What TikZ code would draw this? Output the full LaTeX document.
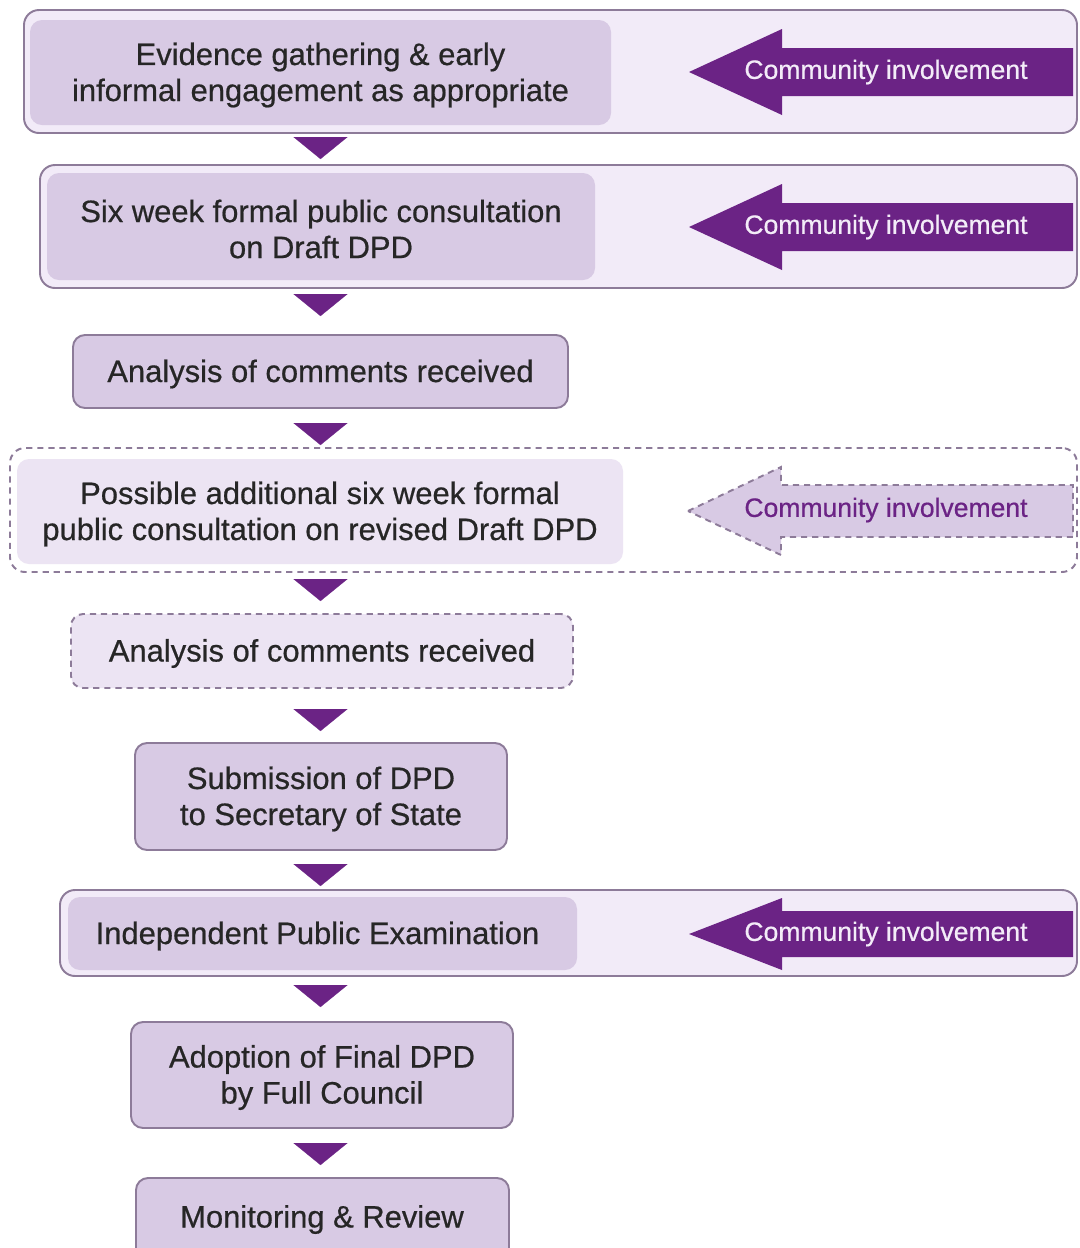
\documentclass[tikz,border=0pt]{standalone}
\usepackage{fontspec}
\setmainfont{Liberation Sans}
\newfontfamily\stepfont{Liberation Sans}[FakeBold=0.6]
\usetikzlibrary{fit,arrows.meta}

\definecolor{pale}{HTML}{F2EBF8}
\definecolor{lilac}{HTML}{D8CAE4}
\definecolor{lilacpale}{HTML}{ECE4F3}
\definecolor{edge}{HTML}{8D7B99}
\definecolor{plum}{HTML}{6B2385}
\definecolor{ink}{HTML}{262626}
\definecolor{snow}{HTML}{F3ECF8}

\begin{document}
\begin{tikzpicture}[x=0.2mm,y=-0.2mm,
    outerbox/.style={draw=edge, line width=1.1pt, fill=pale, rounded corners=3mm, inner sep=0pt},
    maybebox/.style={draw=edge, line width=1.1pt, dash pattern=on 3.5pt off 2.8pt, rounded corners=3mm, inner sep=0pt},
    steptext/.style={inner sep=0pt, align=center, text=ink, yshift=-0.5mm, font=\stepfont\fontsize{17.6}{20.5}\selectfont},
    stepbox/.style={fill=lilac, rounded corners=2.4mm, inner sep=0pt},
    stepline/.style={stepbox, draw=edge, line width=1.1pt},
    stepmaybe/.style={stepbox, fill=lilacpale, draw=edge, line width=1.1pt, dash pattern=on 3.5pt off 2.8pt},
    flowtri/.style={plum, line width=0.1pt, -{Triangle[width=10.8mm, length=4.4mm]}},
    involve/.style={fill=plum},
    involvemaybe/.style={fill=lilac, draw=edge, line width=1.1pt, dash pattern=on 3.5pt off 2.8pt},
    involvetext/.style={inner sep=0pt, text=snow, font=\stepfont\fontsize{15.1}{18}\selectfont},
    involvemaybetext/.style={involvetext, text=plum}]
    \fill [white] (0,0) rectangle (1079,1248);
    \useasboundingbox (0,0) rectangle (1079,1248);

    \node [outerbox, fit={(24,10) (1077,133)}] (o1) {};
    \node [stepbox, fit={(30,20) (611,125)}] (s1) {};
    \node [steptext] (t1) at (s1.center) {Evidence gathering \& early\\informal engagement as appropriate};
    \fill [involve] (689,72) -- ++(93,-43) -- ++(0,19) -- ++(291,0) -- ++(0,48) -- ++(-291,0) -- ++(0,19) -- cycle;
    \node [involvetext] (c1) at (886,72) {Community involvement};

    \node [outerbox, fit={(40,165) (1077,288)}] (o2) {};
    \node [stepbox, fit={(47,173) (595,280)}] (s2) {};
    \node [steptext] (t2) at (s2.center) {Six week formal public consultation\\on Draft DPD};
    \fill [involve] (689,227) -- ++(93,-43) -- ++(0,19) -- ++(291,0) -- ++(0,48) -- ++(-291,0) -- ++(0,19) -- cycle;
    \node [involvetext] (c2) at (886,227) {Community involvement};

    \node [stepline, fit={(73,335) (568,408)}] (s3) {};
    \node [steptext] (t3) at (s3.center) {Analysis of comments received};

    \node [maybebox, fit={(10,448) (1077,572)}] (o4) {};
    \node [stepbox, fill=lilacpale, fit={(17,459) (623,564)}] (s4) {};
    \node [steptext] (t4) at (s4.center) {Possible additional six week formal\\public consultation on revised Draft DPD};
    \filldraw [involvemaybe] (688,511) -- ++(93,-44) -- ++(0,18) -- ++(292,0) -- ++(0,52) -- ++(-292,0) -- ++(0,18) -- cycle;
    \node [involvemaybetext] (c4) at (886,510) {Community involvement};

    \node [stepmaybe, fit={(71,614) (573,688)}] (s5) {};
    \node [steptext] (t5) at (s5.center) {Analysis of comments received};

    \node [stepline, fit={(135,743) (507,850)}] (s6) {};
    \node [steptext] (t6) at (s6.center) {Submission of DPD\\to Secretary of State};

    \node [outerbox, fit={(60,890) (1077,976)}] (o7) {};
    \node [stepbox, fit={(68,897) (577,970)}] (s7) {};
    \node [steptext] (t7) at ([xshift=-1mm]s7.center) {Independent Public Examination};
    \fill [involve] (689,934) -- ++(93,-36) -- ++(0,13) -- ++(291,0) -- ++(0,46) -- ++(-291,0) -- ++(0,13) -- cycle;
    \node [involvetext] (c7) at (886,934) {Community involvement};

    \node [stepline, fit={(131,1022) (513,1128)}] (s8) {};
    \node [steptext] (t8) at (s8.center) {Adoption of Final DPD\\by Full Council};

    \node [stepline, fit={(136,1178) (509,1265)}] (s9) {};
    \node [steptext] (t9) at (322,1217) {Monitoring \& Review};

    \draw [flowtri, shorten <=1mm, shorten >=1mm] (o1.south -| s3.north) -- (o2.north -| s3.north);
    \draw [flowtri, shorten <=1.4mm, shorten >=3.6mm] (o2.south -| s3.north) -- (s3.north);
    \draw [flowtri, shorten <=3.2mm, shorten >=0.4mm] (s3.south) -- (o4.north -| s3.south);
    \draw [flowtri, shorten <=1.6mm, shorten >=2.4mm] (o4.south -| s3.south) -- (s5.north -| s3.south);
    \draw [flowtri, shorten <=4.4mm, shorten >=2.2mm] (s5.south -| s3.south) -- (s6.north -| s3.south);
    \draw [flowtri, shorten <=3mm, shorten >=0.6mm] (s6.south -| s3.south) -- (o7.north -| s3.south);
    \draw [flowtri, shorten <=2mm, shorten >=2.8mm] (o7.south -| s3.south) -- (s8.north -| s3.south);
    \draw [flowtri, shorten <=3.2mm, shorten >=2.4mm] (s8.south -| s3.south) -- (s9.north -| s3.south);
\end{tikzpicture}
\end{document}
